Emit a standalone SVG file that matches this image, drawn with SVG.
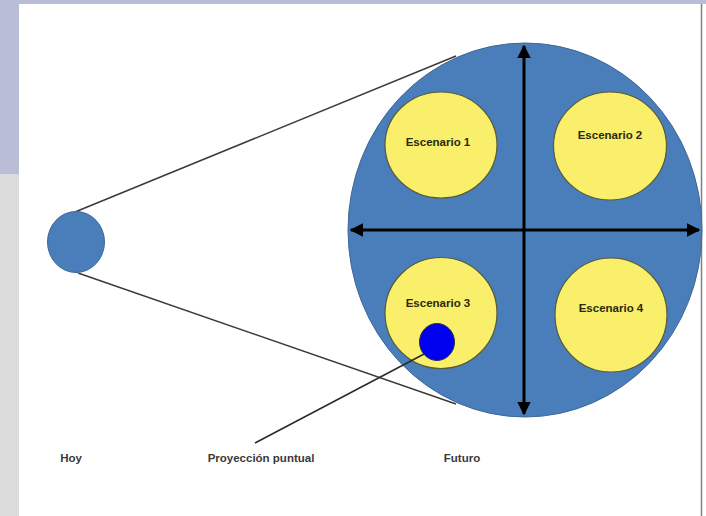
<svg xmlns="http://www.w3.org/2000/svg" width="706" height="516" viewBox="0 0 706 516">
<defs>
<style>
.cone{stroke:#3a3a3a;stroke-width:1.5;fill:none}
.big{fill:#4a7ebb;stroke:#3d6896;stroke-width:1}
.scen{fill:#f9ef6a;stroke:#5a5a38;stroke-width:1.2}
.lbl{font-family:"Liberation Sans",Arial,sans-serif;font-weight:bold;font-size:11.5px;fill:#2a2a10;text-anchor:middle}
.cap{font-family:"Liberation Sans",Arial,sans-serif;font-weight:bold;font-size:11.5px;fill:#3a3a3a;text-anchor:middle}
.axis{stroke:#000000;stroke-width:3;fill:none}
</style>
<marker id="ah" viewBox="0 0 10 10" refX="9" refY="5" markerWidth="4.5" markerHeight="4.5" orient="auto-start-reverse" markerUnits="strokeWidth">
<path d="M0,0 L10,5 L0,10 Z" fill="#000000"/>
</marker>
</defs>
<rect x="0" y="0" width="706" height="516" fill="#ffffff"/>
<rect x="0" y="0" width="706" height="4" fill="#babdd8"/>
<rect x="0" y="0" width="19" height="174" fill="#babdd8"/>
<rect x="0" y="174" width="19" height="342" fill="#dcdcdc"/>
<line x1="701.5" y1="4" x2="701.5" y2="516" stroke="#808080" stroke-width="1.5"/>

<g id="connectors">
<line class="cone" x1="75" y1="212" x2="456" y2="56"/>
<line class="cone" x1="78" y1="273" x2="456" y2="404"/>
</g>

<g id="hoy">
<ellipse cx="76" cy="242" rx="28.5" ry="30.5" fill="#4a7ebb" stroke="#3d6896" stroke-width="1"/>
</g>

<g id="futuro-circle">
<ellipse class="big" cx="525" cy="230" rx="177" ry="187"/>
</g>

<g id="escenario1">
<ellipse class="scen" cx="441" cy="145" rx="56" ry="53"/>
<text class="lbl" x="438" y="146">Escenario 1</text>
</g>
<g id="escenario2">
<ellipse class="scen" cx="610" cy="146" rx="56.5" ry="54"/>
<text class="lbl" x="610" y="139">Escenario 2</text>
</g>
<g id="escenario3">
<ellipse class="scen" cx="441" cy="313" rx="56" ry="55.5"/>
<text class="lbl" x="438" y="307">Escenario 3</text>
</g>
<g id="escenario4">
<ellipse class="scen" cx="611" cy="315" rx="56" ry="57"/>
<text class="lbl" x="611" y="312">Escenario 4</text>
</g>

<g id="axes">
<line class="axis" x1="524" y1="46" x2="524" y2="414" marker-start="url(#ah)" marker-end="url(#ah)"/>
<line class="axis" x1="351" y1="230" x2="699" y2="230" marker-start="url(#ah)" marker-end="url(#ah)"/>
</g>

<g id="proyeccion-pointer">
<line x1="426" y1="353" x2="255" y2="443" stroke="#2a2a2a" stroke-width="1.5"/>
</g>
<g id="proyeccion">
<ellipse cx="437" cy="342" rx="17.5" ry="18.5" fill="#0000ee" stroke="#2a2a50" stroke-width="1"/>
</g>

<g id="labels">
<text class="cap" x="71" y="462">Hoy</text>
<text class="cap" x="261" y="462">Proyección puntual</text>
<text class="cap" x="462" y="462">Futuro</text>
</g>
</svg>
